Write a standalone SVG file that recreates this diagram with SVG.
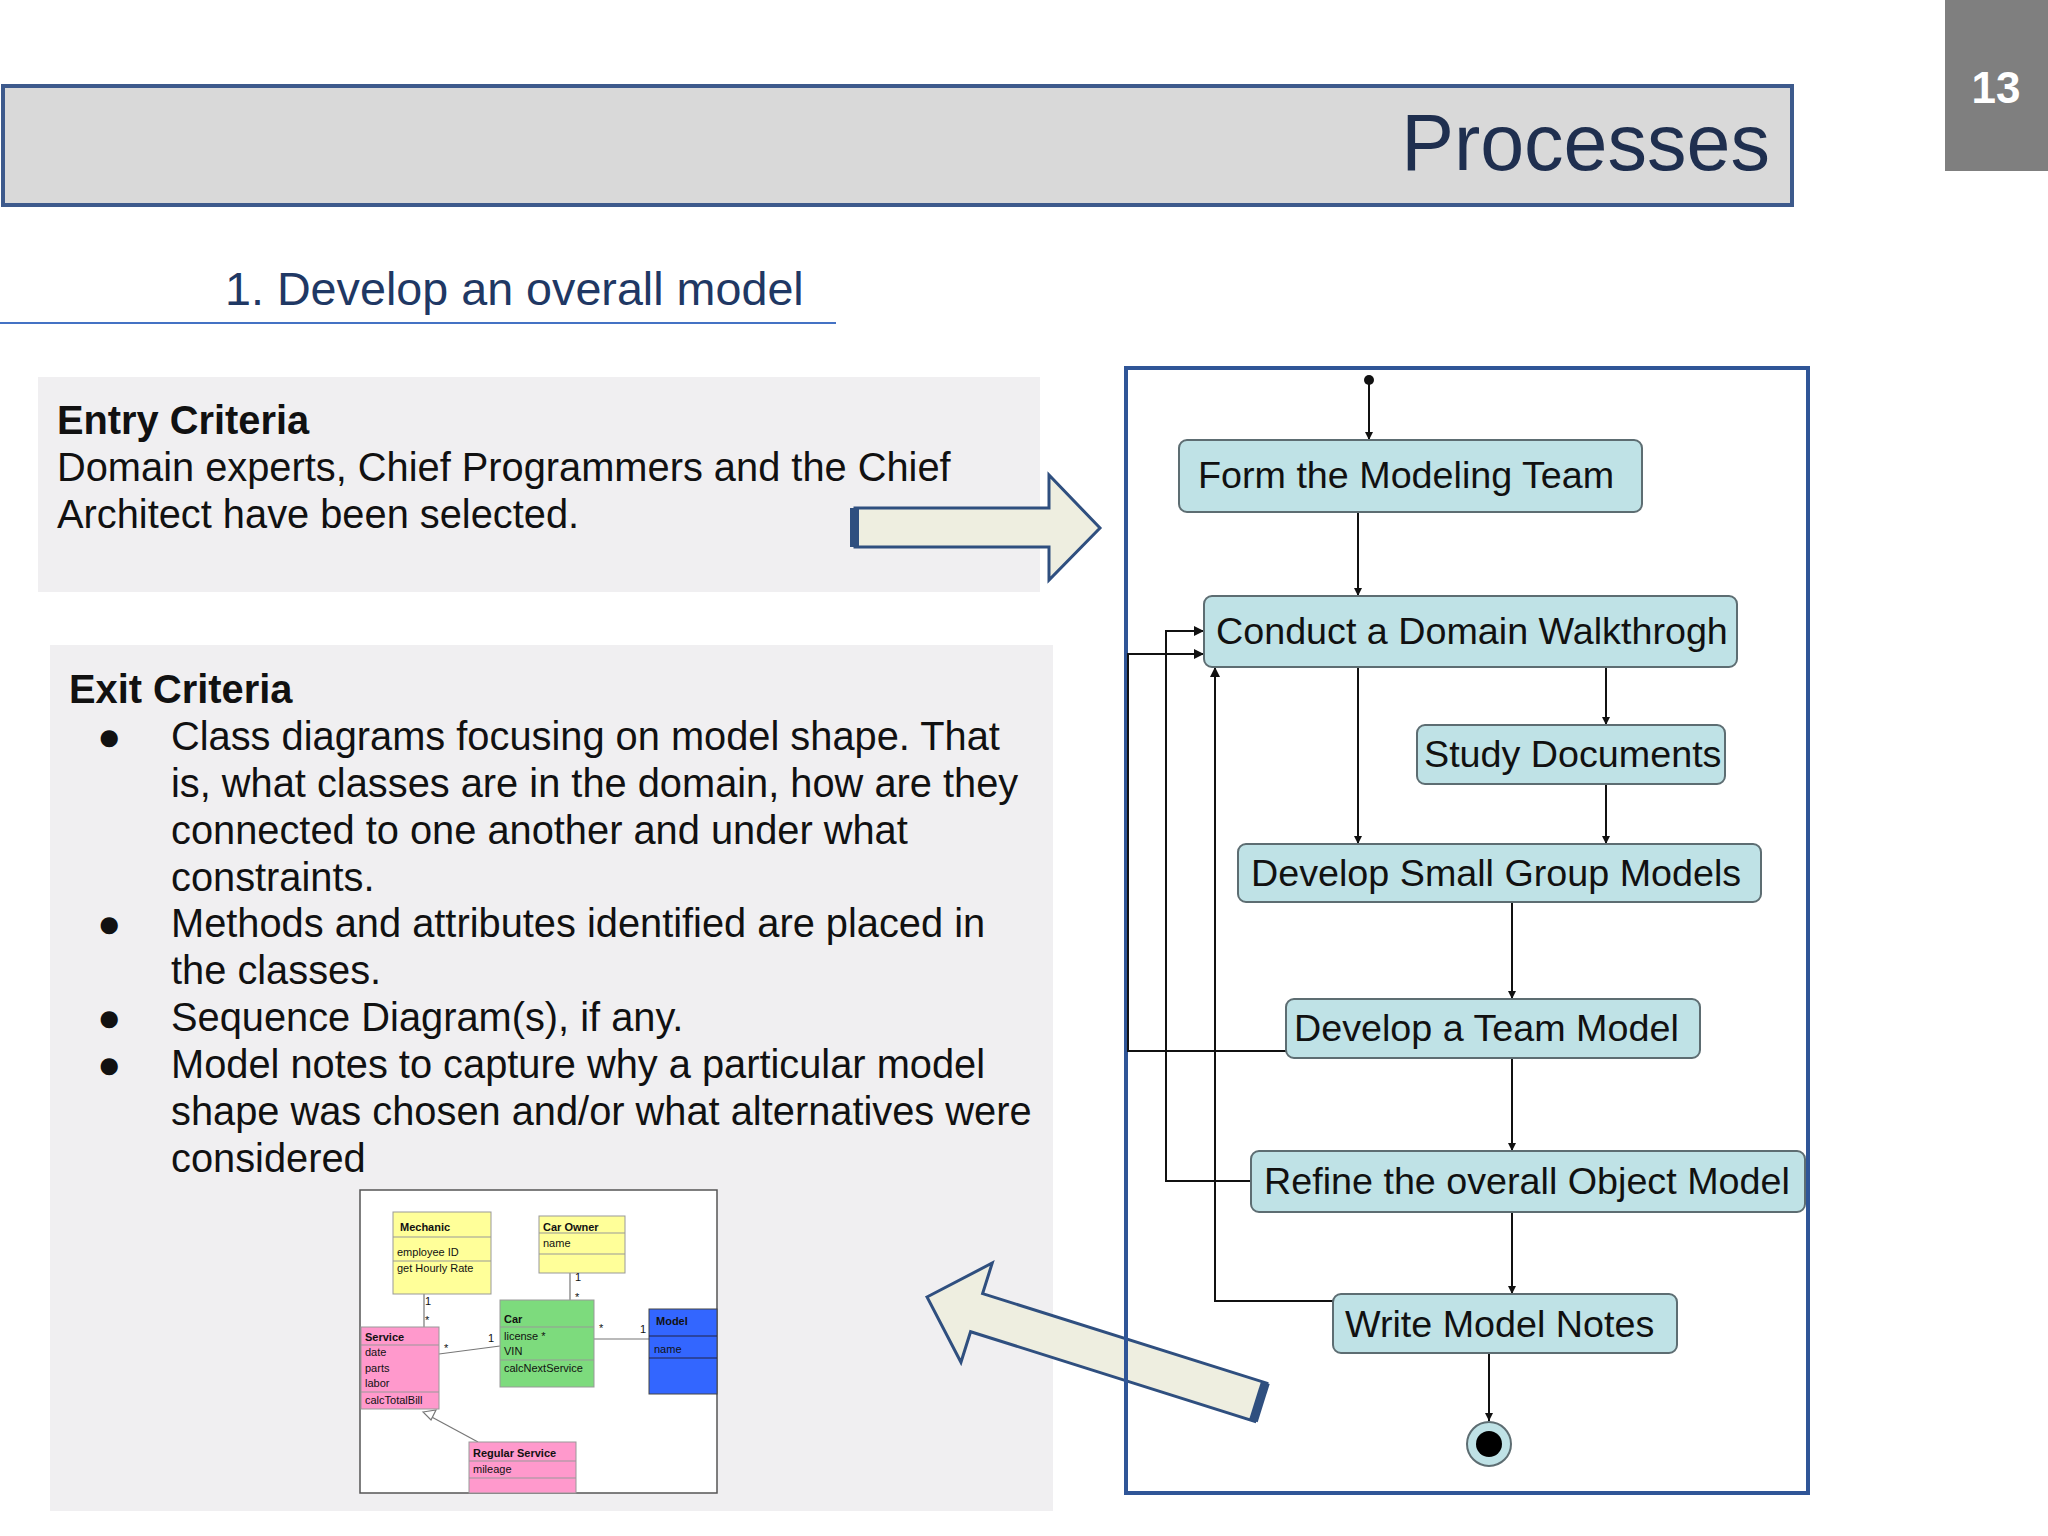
<svg xmlns="http://www.w3.org/2000/svg" width="2048" height="1536" viewBox="0 0 2048 1536">
<defs>
<style>
.t{font-family:"Liberation Sans",Arial,sans-serif}
.body{font-family:"Liberation Sans",Arial,sans-serif;font-size:39.8px;fill:#111}
.box{fill:#bfe2e6;stroke:#5d6d72;stroke-width:2}
.bt{font-family:"Liberation Sans",Arial,sans-serif;font-size:37.7px;fill:#111}
.cn{fill:none;stroke:#111;stroke-width:2}
.cl{stroke:#777;stroke-width:1.2}
.ct{font-family:"Liberation Sans",Arial,sans-serif;font-size:11px;fill:#111}
.cb{font-family:"Liberation Sans",Arial,sans-serif;font-size:11px;font-weight:bold;fill:#111}
.big{fill:#eeeee0;stroke:#2f4f7f;stroke-width:3}
</style>
<marker id="ah" viewBox="0 0 10 10" refX="10" refY="5" markerWidth="8" markerHeight="8" orient="auto" markerUnits="userSpaceOnUse">
<path d="M0,0 L10,5 L0,10 z" fill="#111"/></marker>
<marker id="ah2" viewBox="0 0 10 10" refX="10" refY="5" markerWidth="10" markerHeight="10" orient="auto" markerUnits="userSpaceOnUse">
<path d="M0,0 L10,5 L0,10 z" fill="#111"/></marker>
</defs>
<rect width="2048" height="1536" fill="#ffffff"/>
<g id="header">
<rect x="3" y="86" width="1789" height="119" fill="#d9d9d9" stroke="#3d5a8c" stroke-width="4"/>
<text x="1770" y="170" text-anchor="end" class="t" font-size="79" fill="#1f2f4f">Processes</text>
</g>
<g id="pagenum">
<rect x="1945" y="0" width="103" height="171" fill="#7f7f7f"/>
<text x="1996" y="103" text-anchor="middle" class="t" font-size="44" font-weight="bold" fill="#fff">13</text>
</g>
<g id="subtitle">
<text x="225" y="305" class="t" font-size="46.7" fill="#1f3864">1. Develop an overall model</text>
<line x1="0" y1="323" x2="836" y2="323" stroke="#4472c4" stroke-width="2"/>
</g>
<g id="entry">
<rect x="38" y="377" width="1002" height="215" fill="#f0eff1"/>
<text x="57" y="434" class="body" font-weight="bold">Entry Criteria</text>
<text x="57" y="481" class="body">Domain experts, Chief Programmers and the Chief</text>
<text x="57" y="528" class="body">Architect have been selected.</text>
</g>
<g id="exit">
<rect x="50" y="645" width="1003" height="866" fill="#f0eff1"/>
<text x="69" y="703" class="body" font-weight="bold">Exit Criteria</text>
<g class="body">
<text x="97" y="750">●</text>
<text x="171" y="750">Class diagrams focusing on model shape. That</text>
<text x="171" y="797">is, what classes are in the domain, how are they</text>
<text x="171" y="844">connected to one another and under what</text>
<text x="171" y="891">constraints.</text>
<text x="97" y="937">●</text>
<text x="171" y="937">Methods and attributes identified are placed in</text>
<text x="171" y="984">the classes.</text>
<text x="97" y="1031">●</text>
<text x="171" y="1031">Sequence Diagram(s), if any.</text>
<text x="97" y="1078">●</text>
<text x="171" y="1078">Model notes to capture why a particular model</text>
<text x="171" y="1125">shape was chosen and/or what alternatives were</text>
<text x="171" y="1172">considered</text>
</g>
</g>
<g id="classdiagram">
<rect x="360" y="1190" width="357" height="303" fill="#fff" stroke="#555" stroke-width="1.5"/>
<g class="cl">
<line x1="424" y1="1294" x2="424" y2="1327"/>
<line x1="570" y1="1273" x2="570" y2="1300"/>
<line x1="439" y1="1354" x2="500" y2="1346"/>
<line x1="594" y1="1339" x2="649" y2="1339"/>
<line x1="478" y1="1442" x2="428" y2="1415"/>
<path d="M423,1412 L436,1410 L431,1420 z" fill="#fff"/>
</g>
<rect x="393" y="1212" width="98" height="82" fill="#ffff99" stroke="#999"/>
<line x1="393" y1="1237" x2="491" y2="1237" stroke="#999"/>
<line x1="393" y1="1261" x2="491" y2="1261" stroke="#999"/>
<text x="400" y="1231" class="cb">Mechanic</text>
<text x="397" y="1256" class="ct">employee ID</text>
<text x="397" y="1272" class="ct">get Hourly Rate</text>
<rect x="539" y="1216" width="86" height="57" fill="#ffff99" stroke="#999"/>
<line x1="539" y1="1233" x2="625" y2="1233" stroke="#999"/>
<line x1="539" y1="1254" x2="625" y2="1254" stroke="#999"/>
<text x="543" y="1231" class="cb">Car Owner</text>
<text x="543" y="1247" class="ct">name</text>
<rect x="500" y="1300" width="94" height="87" fill="#7ddb7d" stroke="#999"/>
<line x1="500" y1="1327" x2="594" y2="1327" stroke="#999"/>
<line x1="500" y1="1360" x2="594" y2="1360" stroke="#999"/>
<text x="504" y="1323" class="cb">Car</text>
<text x="504" y="1340" class="ct">license *</text>
<text x="504" y="1355" class="ct">VIN</text>
<text x="504" y="1372" class="ct">calcNextService</text>
<rect x="649" y="1309" width="68" height="85" fill="#3366ff" stroke="#444"/>
<line x1="649" y1="1336" x2="717" y2="1336" stroke="#224"/>
<line x1="649" y1="1358" x2="717" y2="1358" stroke="#224"/>
<text x="656" y="1325" class="cb">Model</text>
<text x="654" y="1353" class="ct">name</text>
<rect x="361" y="1327" width="78" height="82" fill="#ff99cc" stroke="#999"/>
<line x1="361" y1="1345" x2="439" y2="1345" stroke="#999"/>
<line x1="361" y1="1392" x2="439" y2="1392" stroke="#999"/>
<text x="365" y="1341" class="cb">Service</text>
<text x="365" y="1356" class="ct">date</text>
<text x="365" y="1372" class="ct">parts</text>
<text x="365" y="1387" class="ct">labor</text>
<text x="365" y="1404" class="ct">calcTotalBill</text>
<rect x="469" y="1442" width="107" height="51" fill="#ff99cc" stroke="#999"/>
<line x1="469" y1="1461" x2="576" y2="1461" stroke="#999"/>
<line x1="469" y1="1478" x2="576" y2="1478" stroke="#999"/>
<text x="473" y="1457" class="cb">Regular Service</text>
<text x="473" y="1473" class="ct">mileage</text>
<g class="ct" font-size="9">
<text x="425" y="1305">1</text><text x="425" y="1324">*</text>
<text x="575" y="1281">1</text><text x="575" y="1301">*</text>
<text x="444" y="1352">*</text><text x="488" y="1342">1</text>
<text x="599" y="1332">*</text><text x="640" y="1333">1</text>
</g>
</g>
<g id="arrow-right">
<path class="big" d="M855,508 L1049,508 L1049,475 L1100,528 L1049,580 L1049,547 L855,547 z"/>
<rect x="850" y="508" width="9" height="39" fill="#2f4f7f"/>
</g>
<g id="arrow-left" transform="translate(927,1297) rotate(17.5)">
<path class="big" d="M0,0 L52,-52 L52,-20 L350,-20 L350,20 L52,20 L52,52 z"/>
<rect x="344" y="-20" width="9" height="40" fill="#2f4f7f"/>
</g>
<g id="frame"><rect x="1126" y="368" width="682" height="1125" fill="none" stroke="#2f5597" stroke-width="4"/></g>
<g id="connectors">
<circle cx="1369" cy="380" r="5" fill="#111"/>
<line class="cn" x1="1369" y1="380" x2="1369" y2="440" marker-end="url(#ah)"/>
<line class="cn" x1="1358" y1="512" x2="1358" y2="596" marker-end="url(#ah)"/>
<line class="cn" x1="1606" y1="667" x2="1606" y2="725" marker-end="url(#ah)"/>
<line class="cn" x1="1358" y1="667" x2="1358" y2="844" marker-end="url(#ah)"/>
<line class="cn" x1="1606" y1="784" x2="1606" y2="844" marker-end="url(#ah)"/>
<line class="cn" x1="1512" y1="902" x2="1512" y2="999" marker-end="url(#ah)"/>
<line class="cn" x1="1512" y1="1058" x2="1512" y2="1151" marker-end="url(#ah)"/>
<line class="cn" x1="1512" y1="1212" x2="1512" y2="1294" marker-end="url(#ah)"/>
<line class="cn" x1="1489" y1="1353" x2="1489" y2="1421" marker-end="url(#ah)"/>
<path class="cn" d="M1286,1051 L1128,1051 L1128,654 L1204,654" marker-end="url(#ah2)"/>
<path class="cn" d="M1251,1181 L1166,1181 L1166,631 L1204,631" marker-end="url(#ah2)"/>
<path class="cn" d="M1333,1301 L1215,1301 L1215,667" marker-end="url(#ah2)"/>
</g>
<g id="n-form"><rect class="box" x="1179" y="440" width="463" height="72" rx="8"/><text class="bt" x="1198" y="488">Form the Modeling Team</text></g>
<g id="n-conduct"><rect class="box" x="1204" y="596" width="533" height="71" rx="8"/><text class="bt" x="1216" y="644">Conduct a Domain Walkthrogh</text></g>
<g id="n-study"><rect class="box" x="1417" y="725" width="308" height="59" rx="8"/><text class="bt" x="1424" y="767">Study Documents</text></g>
<g id="n-small"><rect class="box" x="1238" y="844" width="523" height="58" rx="8"/><text class="bt" x="1251" y="886">Develop Small Group Models</text></g>
<g id="n-team"><rect class="box" x="1286" y="999" width="414" height="59" rx="8"/><text class="bt" x="1294" y="1041">Develop a Team Model</text></g>
<g id="n-refine"><rect class="box" x="1251" y="1151" width="554" height="61" rx="8"/><text class="bt" x="1264" y="1194">Refine the overall Object Model</text></g>
<g id="n-write"><rect class="box" x="1333" y="1294" width="344" height="59" rx="8"/><text class="bt" x="1345" y="1337">Write Model Notes</text></g>
<g id="n-end"><circle cx="1489" cy="1444" r="22" fill="#bfe2e6" stroke="#5d6d72" stroke-width="2"/><circle cx="1489" cy="1444" r="13" fill="#000"/></g>
</svg>
